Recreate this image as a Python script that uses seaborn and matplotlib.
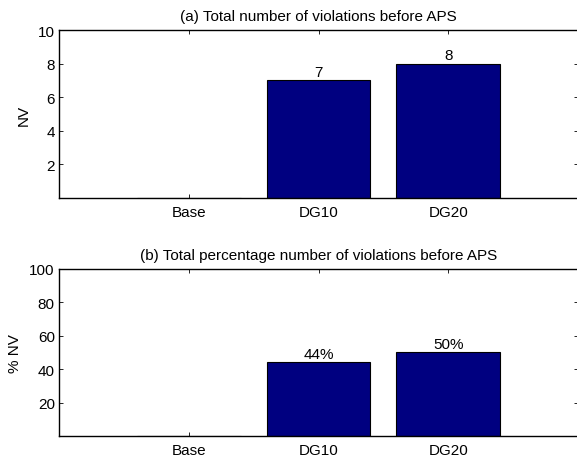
import matplotlib
matplotlib.use("Agg")
import matplotlib.pyplot as plt
import seaborn as sns
import pandas as pd

# Scenarios and violation results
cases = ["Base", "DG10", "DG20"]
nv_counts = [0, 7, 8]
nv_percent = [0, 44, 50]
count_labels = ["", "7", "8"]
percent_labels = ["", "44%", "50%"]

sns.set_theme(style="white")
plt.rcParams["font.family"] = ["Liberation Sans", "DejaVu Sans"]
plt.rcParams["text.color"] = "black"
plt.rcParams["axes.labelcolor"] = "black"

fig = plt.figure(figsize=(5.77, 4.64), dpi=100)
ax1 = fig.add_axes([0.1023, 0.5711, 0.8995, 0.362])
ax2 = fig.add_axes([0.1023, 0.0582, 0.8995, 0.360])

df1 = pd.DataFrame({"case": cases, "nv": nv_counts})
df2 = pd.DataFrame({"case": cases, "pnv": nv_percent})

navy = "#000080"
sns.barplot(data=df1, x="case", y="nv", ax=ax1, color=navy, saturation=1,
            width=0.8, edgecolor="black", linewidth=0.8)
sns.barplot(data=df2, x="case", y="pnv", ax=ax2, color=navy, saturation=1,
            width=0.8, edgecolor="black", linewidth=0.8)

fs = 11
for ax, labels, ylim, yticks, ylabel, title in [
    (ax1, count_labels, (0, 10), [2, 4, 6, 8, 10], "NV",
     "(a) Total number of violations before APS"),
    (ax2, percent_labels, (0, 100), [20, 40, 60, 80, 100], "% NV",
     "(b) Total percentage number of violations before APS"),
]:
    ax.bar_label(ax.containers[0], labels=labels, fontsize=fs, padding=1,
                 color="black")
    ax.set_xlim(-1, 3)
    ax.set_ylim(*ylim)
    ax.set_yticks(yticks)
    ax.set_xlabel("")
    ax.set_ylabel(ylabel, fontsize=fs, labelpad=5, color="black")
    ax.set_title(title, fontsize=fs, pad=7, color="black")
    ax.tick_params(axis="both", which="both", direction="in", length=3,
                   width=0.6, colors="black", labelsize=fs,
                   top=True, right=True, bottom=True, left=True)
    ax.tick_params(axis="x", pad=5)
    ax.tick_params(axis="y", pad=3)
    for s in ax.spines.values():
        s.set_visible(True)
        s.set_color("black")
        s.set_linewidth(1.0)

fig.savefig("out.png", dpi=100, facecolor="white")
